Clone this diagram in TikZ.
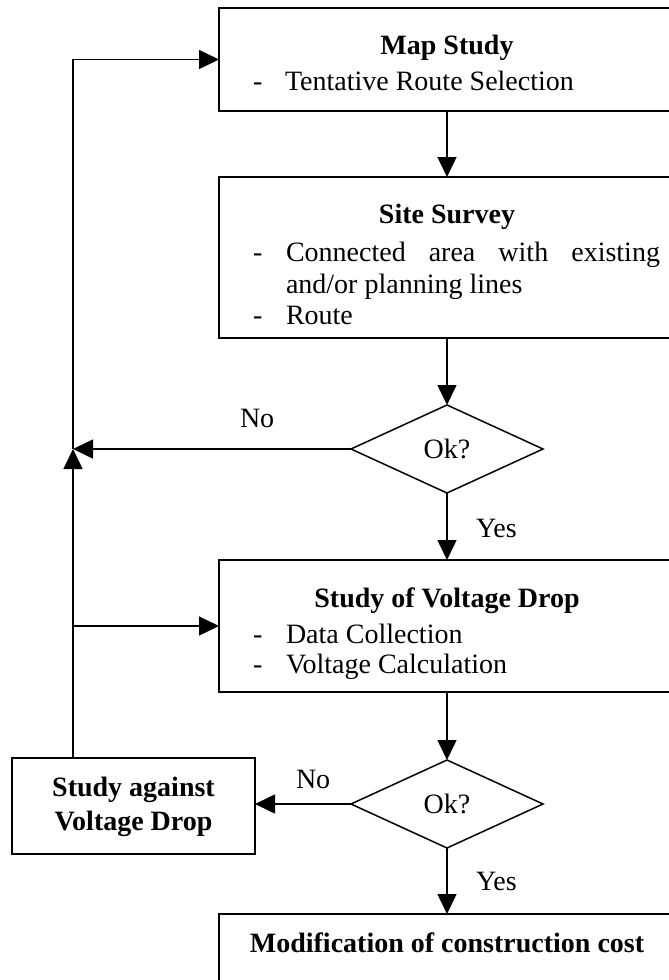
\documentclass[tikz,border=0pt]{standalone}
\usepackage{fontspec}
\setmainfont{Liberation Serif}
\usetikzlibrary{arrows.meta,shapes.geometric,calc}
\begin{document}
\begin{tikzpicture}[x=1pt,y=-1pt,
  every node/.style={font=\fontsize{28}{32}\selectfont, inner sep=0pt, outer sep=0pt},
  box/.style={draw, line width=1.5pt, rectangle, minimum width=456pt},
  dia/.style={draw, line width=1.5pt, diamond, minimum width=192pt, minimum height=88pt},
  conn/.style={line width=1.5pt, -{Triangle[length=20pt,width=19pt]}},
  title/.style={anchor=base, font=\fontsize{28}{32}\selectfont\bfseries},
  item/.style={anchor=base west},
  bul/.style={anchor=base west},
  lbl/.style={anchor=base west}]

\useasboundingbox (0,0) rectangle (669,980);
\clip (0,0) rectangle (669,980);

% boxes
\node[box, minimum height=103pt] (map) at (447,59.5) {};
\node[box, minimum height=161pt] (site) at (447,257.5) {};
\node[dia] (ok1) at (447,449) {Ok?};
\node[box, minimum height=132pt] (svd) at (447,626) {};
\node[dia] (ok2) at (447,804) {Ok?};
\node[box, minimum width=243pt, minimum height=96pt] (sag) at (133.5,806) {};
\node[box, minimum height=120pt] (mod) at (447,974) {};

% texts
\node[title] (mapT) at (447,54) {Map Study};
\node[bul] (mapD) at (253,90) {-};
\node[item] (mapI) at (285,90) {Tentative Route Selection};

\node[title] (siteT) at (447,223) {Site Survey};
\node[bul] (siteD1) at (253,261) {-};
\node[item] (siteI1) at (286,261) {\makebox[374pt][s]{Connected\hfill area\hfill with\hfill existing}};
\node[item] (siteI1b) at (286,293) {and/or planning lines};
\node[bul] (siteD2) at (253,324) {-};
\node[item] (siteI2) at (286,324) {Route};

\node[title] (svdT) at (447,607) {Study of Voltage Drop};
\node[bul] (svdD1) at (253,643) {-};
\node[item] (svdI1) at (286,643) {Data Collection};
\node[bul] (svdD2) at (253,673) {-};
\node[item] (svdI2) at (286,673) {Voltage Calculation};

\node[title] (sagT1) at (133.5,796) {Study against};
\node[title] (sagT2) at (133.5,830) {Voltage Drop};

\node[title] (modT) at (447,952) {Modification of construction cost};

% labels
\node[lbl] (no1) at (240,427) {No};
\node[lbl] (no2) at (296,788) {No};
\node[lbl] (yes1) at (476,537) {Yes};
\node[lbl] (yes2) at (476,890) {Yes};

% connectors
\coordinate (j) at (73,449);
\coordinate (br) at (73,626);
\draw[conn] (map.south) -- (site.north);
\draw[conn] (site.south) -- (ok1.north);
\draw[conn] (ok1.south) -- (svd.north);
\draw[conn] (ok1.west) -- (j);
\draw[conn] (svd.south) -- (ok2.north);
\draw[conn] (ok2.west) -- (ok2.west -| sag.east);
\draw[conn] (ok2.south) -- (mod.north);
\draw[conn] (sag.north -| j) -- (j);
\draw[conn] (j) -- (map.west -| j) -- (map.west);
\draw[conn] (br) -- (svd.west);
\end{tikzpicture}
\end{document}
